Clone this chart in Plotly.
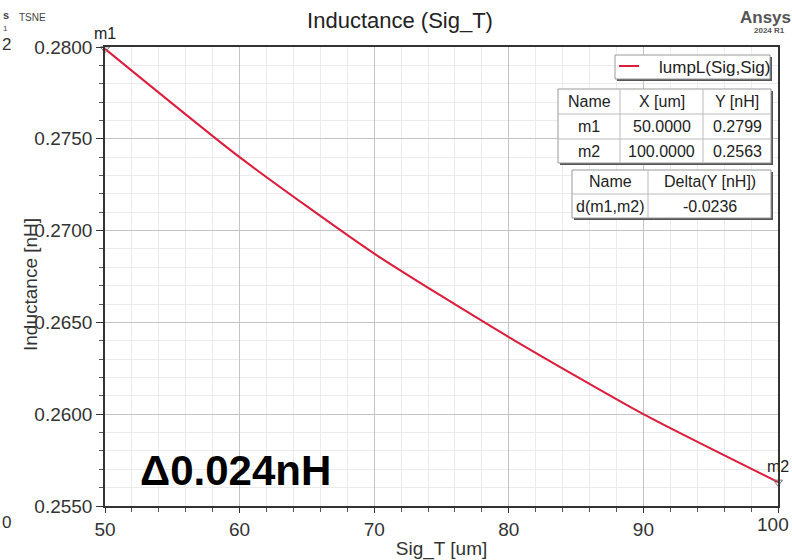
import plotly.graph_objects as go

# ---- data ----
sig_t_um = [50, 60, 70, 80, 90, 100]
inductance_nH = [0.2799, 0.2740, 0.26875, 0.2642, 0.2600, 0.2563]
series_name = "lumpL(Sig,Sig)"
marker_names = ["m1", "m2"]
marker_x = [50, 100]
marker_y = [0.2799, 0.2563]
delta_name = "d(m1,m2)"
delta_value = -0.0236
y_ticks = [0.2550, 0.2600, 0.2650, 0.2700, 0.2750, 0.2800]
x_ticks = [50, 60, 70, 80, 90, 100]

W, H = 792, 560
L, R, T, B = 105, 14, 47, 54
PW, PH = W - L - R, H - T - B

def px(x):
    return (x - L) / PW

def py(y):
    return (H - B - y) / PH

FONT = "Liberation Sans, Arial, sans-serif"
RED = "#DC1E3C"

fig = go.Figure()
fig.add_trace(go.Scatter(
    x=sig_t_um, y=inductance_nH, mode="lines", name=series_name,
    line=dict(color=RED, width=2, shape="spline", smoothing=0.6),
    showlegend=False,
))
fig.add_trace(go.Scatter(
    x=marker_x, y=marker_y, mode="markers+text", text=marker_names,
    textposition="top center", textfont=dict(size=16, color="#222", family=FONT),
    marker=dict(symbol="triangle-down-open", size=8, color="#777",
                line=dict(width=1, color="#777")),
    showlegend=False, cliponaxis=False, hoverinfo="skip",
))

fig.update_layout(
    width=W, height=H, margin=dict(l=L, r=R, t=T, b=B, autoexpand=False),
    paper_bgcolor="white", plot_bgcolor="white",
    font=dict(family=FONT, size=19, color="#333"),
    title=dict(text="Inductance (Sig_T)", x=(400) / W, xanchor="center",
               y=1 - 20 / H, yanchor="middle", font=dict(size=22, color="#222")),
    showlegend=False,
)

# last x tick label is drawn separately so that it stays inside the page
x_tick_text = [str(v) for v in x_ticks[:-1]] + [""]

fig.update_xaxes(
    range=[50, 100], tickvals=x_ticks, ticktext=x_tick_text,
    showline=True, linecolor="#333", linewidth=1.5, mirror=True,
    ticks="outside", ticklen=5, tickcolor="#333",
    showgrid=True, gridcolor="#C4C4C4", gridwidth=1,
    minor=dict(dtick=2, showgrid=True, gridcolor="#EBEBEB", ticks="outside",
               ticklen=4, tickcolor="#555"),
    title=dict(text="Sig_T [um]", font=dict(size=19, color="#333"), standoff=6),
    zeroline=False, automargin=False,
)
fig.update_yaxes(
    range=[0.2550, 0.2800], tickvals=y_ticks, ticktext=[f"{v:.4f}" for v in y_ticks],
    showline=True, linecolor="#333", linewidth=1.5, mirror=True,
    ticks="outside", ticklen=7, tickcolor="#333",
    showgrid=True, gridcolor="#C4C4C4", gridwidth=1,
    minor=dict(dtick=0.001, showgrid=True, gridcolor="#EBEBEB", ticks="outside",
               ticklen=4, tickcolor="#555"),
    zeroline=False, automargin=False,
)

ann = []
ann.append(dict(x=px(791), y=py(512), xref="paper", yref="paper", text=str(x_ticks[-1]),
                showarrow=False, font=dict(size=19, color="#333"), xanchor="right", yanchor="top"))
# y axis title overlapping tick labels
ann.append(dict(x=px(30), y=py(285), xref="paper", yref="paper", text="Inductance [nH]",
                textangle=-90, showarrow=False, font=dict(size=19, color="#333"),
                xanchor="center", yanchor="middle"))
# big delta text
ann.append(dict(x=px(235), y=py(470), xref="paper", yref="paper", text="<b>Δ0.024nH</b>",
                showarrow=False, font=dict(size=42, color="black", family=FONT),
                xanchor="center", yanchor="middle"))
# corner texts
ann.append(dict(x=px(17), y=py(18), xref="paper", yref="paper", text="TSNE",
                showarrow=False, font=dict(size=10, color="#444"), xanchor="left", yanchor="middle"))
ann.append(dict(x=px(738), y=py(17), xref="paper", yref="paper", text="<b>Ansys</b>",
                showarrow=False, font=dict(size=17, color="#555"), xanchor="left", yanchor="middle"))
ann.append(dict(x=px(752), y=py(30), xref="paper", yref="paper", text="<b>2024 R1</b>",
                showarrow=False, font=dict(size=8, color="#555"), xanchor="left", yanchor="middle"))
ann.append(dict(x=px(1), y=py(15), xref="paper", yref="paper", text="<b>s</b>",
                showarrow=False, font=dict(size=11, color="#444"), xanchor="left", yanchor="middle"))
ann.append(dict(x=px(1), y=py(28), xref="paper", yref="paper", text="1",
                showarrow=False, font=dict(size=8, color="#444"), xanchor="left", yanchor="middle"))
ann.append(dict(x=px(0), y=py(45), xref="paper", yref="paper", text="2",
                showarrow=False, font=dict(size=17, color="#333"), xanchor="left", yanchor="middle"))
ann.append(dict(x=px(0), y=py(522), xref="paper", yref="paper", text="0",
                showarrow=False, font=dict(size=17, color="#333"), xanchor="left", yanchor="middle"))

shapes = []

def box(x0, y0, x1, y1, border="#999"):
    shapes.append(dict(type="rect", xref="paper", yref="paper", x0=px(x0 + 2), x1=px(x1 + 2),
                       y0=py(y1 + 2), y1=py(y0 + 2), fillcolor="#555", line=dict(width=0)))
    shapes.append(dict(type="rect", xref="paper", yref="paper", x0=px(x0), x1=px(x1),
                       y0=py(y1), y1=py(y0), fillcolor="white", line=dict(color=border, width=1)))

def hline(x0, x1, y):
    shapes.append(dict(type="line", xref="paper", yref="paper", x0=px(x0), x1=px(x1),
                       y0=py(y), y1=py(y), line=dict(color="#BBB", width=1)))

def vline(x, y0, y1):
    shapes.append(dict(type="line", xref="paper", yref="paper", x0=px(x), x1=px(x),
                       y0=py(y0), y1=py(y1), line=dict(color="#BBB", width=1)))

def cell(text, xc, yc, size=16):
    ann.append(dict(x=px(xc), y=py(yc), xref="paper", yref="paper", text=text, showarrow=False,
                    font=dict(size=size, color="#222"), xanchor="center", yanchor="middle"))

# legend box
box(615, 55, 770, 79)
shapes.append(dict(type="line", xref="paper", yref="paper", x0=px(619), x1=px(639),
                   y0=py(66), y1=py(66), line=dict(color=RED, width=2)))
ann.append(dict(x=px(657), y=py(67), xref="paper", yref="paper", text=series_name,
                showarrow=False, font=dict(size=17, color="#222"), xanchor="left", yanchor="middle"))

# marker table
tx = [558, 620, 703, 771]
ty = [89, 114, 139, 163]
box(tx[0], ty[0], tx[-1], ty[-1])
for yy in ty[1:-1]:
    hline(tx[0], tx[-1], yy)
for xx in tx[1:-1]:
    vline(xx, ty[0], ty[-1])
rows = [["Name", "X [um]", "Y [nH]"]] + [
    [n, f"{x:.4f}", f"{y:.4f}"] for n, x, y in zip(marker_names, marker_x, marker_y)]
for r, row in enumerate(rows):
    for c, t in enumerate(row):
        cell(t, (tx[c] + tx[c + 1]) / 2, (ty[r] + ty[r + 1]) / 2)

# delta table
dx = [572, 648, 771]
dy = [170, 194, 218]
box(dx[0], dy[0], dx[-1], dy[-1])
hline(dx[0], dx[-1], dy[1])
vline(dx[1], dy[0], dy[-1])
drows = [["Name", "Delta(Y [nH])"], [delta_name, f"{delta_value:.4f}"]]
for r, row in enumerate(drows):
    for c, t in enumerate(row):
        cell(t, (dx[c] + dx[c + 1]) / 2, (dy[r] + dy[r + 1]) / 2)

fig.update_layout(annotations=ann, shapes=shapes)
fig.write_html("out.html")
